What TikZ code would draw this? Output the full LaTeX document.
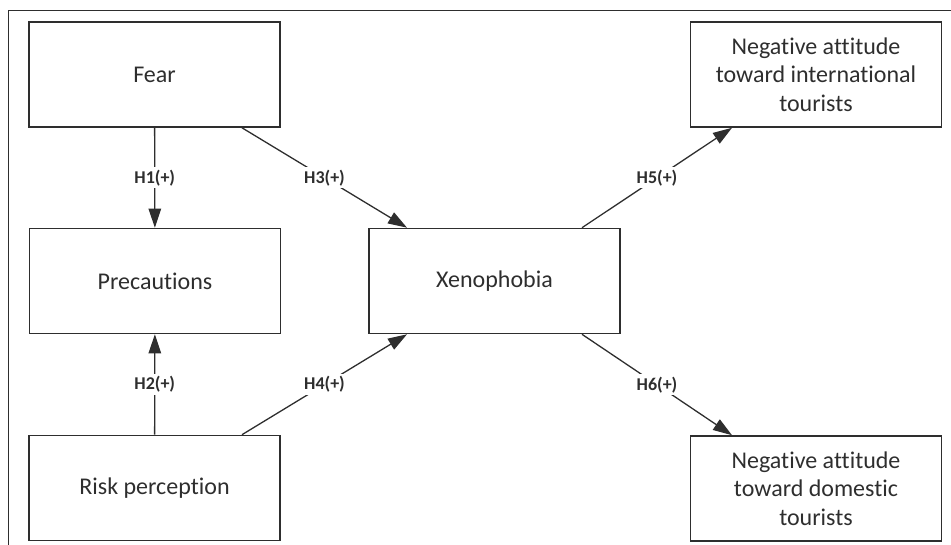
\documentclass[tikz,border=0pt]{standalone}
\usepackage{fontspec}
\setmainfont[Ligatures=NoCommon]{Carlito}
\usepackage{xcolor}
\usetikzlibrary{arrows.meta, positioning}
\definecolor{inkgray}{HTML}{2E2E2E}
\tikzset{
    construct/.style={rectangle, draw=inkgray, line width=1.6pt, text=inkgray, minimum width=251pt, minimum height=105pt, align=center, font=\fontsize{24}{28.5}\selectfont},
    arrow/.style={-{Triangle[length=19pt, width=12.5pt]}, line width=1.3pt, draw=inkgray},
    hyp/.style={fill=white, text=inkgray, inner sep=2.5pt, font=\fontsize{18}{20}\selectfont\bfseries}
}

\begin{document}
\begin{tikzpicture}[x=1pt, y=-1pt]
    \useasboundingbox (0,0) rectangle (951,545);
    % outer frame (top and left only)
    \coordinate (ftl) at (8.5,11);
    \coordinate (ftr) at (951,11);
    \coordinate (fbl) at (8.5,545);
    \draw[line width=1pt, draw=inkgray] (ftr) -- (ftl) -- (fbl);

    \node (fear) [construct] at (154.5,74.5) {Fear};
    \node (prec) [construct] at (155,281) {Precautions};
    \node (risk) [construct] at (154.5,488) {Risk perception};
    \node (xeno) [construct] at (494.5,281) {Xenophobia};
    \node (intl) [construct] at (816,74.5) {Negative attitude\\toward international\\tourists};
    \node (dom) [construct] at (816,488.5) {Negative attitude\\toward domestic\\tourists};

    \draw[arrow] (fear) -- node[hyp] {H1(+)} (prec);
    \draw[arrow] (risk) -- node[hyp] {H2(+)} (prec);
    \draw[arrow] ([xshift=87.5pt]fear.south) -- node[hyp] {H3(+)} ([xshift=-87.5pt]xeno.north);
    \draw[arrow] ([xshift=87.5pt]risk.north) -- node[hyp] {H4(+)} ([xshift=-87.5pt]xeno.south);
    \draw[arrow] ([xshift=87.5pt]xeno.north) -- node[hyp] {H5(+)} ([xshift=-84pt]intl.south);
    \draw[arrow] ([xshift=87.5pt]xeno.south) -- node[hyp] {H6(+)} ([xshift=-84pt]dom.north);
\end{tikzpicture}
\end{document}
